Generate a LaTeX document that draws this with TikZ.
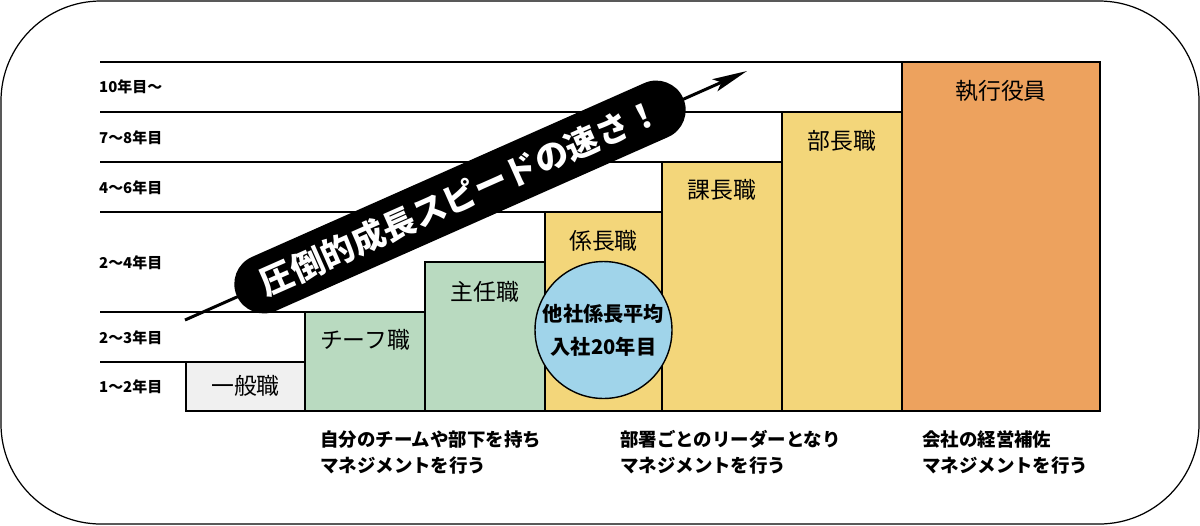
\documentclass[tikz,border=0pt]{standalone}
\usepackage{fontspec}
\setmainfont{Noto Sans CJK JP}
\usepackage{xcolor}
\usepackage{tikz}
\usetikzlibrary{positioning,arrows.meta,shapes.misc}
\definecolor{ippan}{RGB}{240, 240, 240}
\definecolor{chief}{RGB}{185, 218, 192}
\definecolor{kakari}{RGB}{243, 214, 122}
\definecolor{yakuin}{RGB}{237, 162, 94}
\definecolor{heikin}{RGB}{160, 212, 234}

\tikzset{
  grid/.style={line width=0.8pt},
  rank/.style={font=\fontsize{13}{15}\selectfont},
  year/.style={anchor=west, font=\bfseries\fontsize{8.5}{10}\selectfont},
  duty/.style={anchor=north west, align=left, font=\bfseries\fontsize{10.5}{14.8}\selectfont}
}

\begin{document}
\begin{tikzpicture}[x=0.02cm, y=-0.02cm]
\useasboundingbox (0,0) rectangle (1200,525);

% Frame
\draw[line width=0.7pt, rounded corners=2cm] (1,1) rectangle (1199,524);

% Year lines
\draw[grid] (100,62) -- (902,62);
\draw[grid] (100,112) -- (782,112);
\draw[grid] (100,162) -- (662,162);
\draw[grid] (100,212) -- (545,212);
\draw[grid] (100,312) -- (305,312);
\draw[grid] (100,362) -- (186,362);

% Year labels
\node[year] (y10) at (93,87) {10年目〜};
\node[year] (y7) at (93,138) {7〜8年目};
\node[year] (y4) at (93,188) {4〜6年目};
\node[year] (y2b) at (93,263) {2〜4年目};
\node[year] (y2a) at (93,338) {2〜3年目};
\node[year] (y1) at (93,387) {1〜2年目};

% Ranks
\filldraw[grid, fill=ippan] (186,362) rectangle (305,411);
\filldraw[grid, fill=chief] (305,312) rectangle (425,411);
\filldraw[grid, fill=chief] (425,262) rectangle (545,411);
\filldraw[grid, fill=kakari] (545,212) rectangle (662,411);
\filldraw[grid, fill=kakari] (662,162) rectangle (782,411);
\filldraw[grid, fill=kakari] (782,112) rectangle (902,411);
\filldraw[grid, fill=yakuin] (902,62) rectangle (1100,411);

\node[rank] (r1) at (245.5,386) {一般職};
\node[rank] (r2) at (365,340) {チーフ職};
\node[rank] (r3) at (485,292) {主任職};
\node[rank] (r4) at (603.5,241) {係長職};
\node[rank] (r5) at (722,190) {課長職};
\node[rank] (r6) at (842,141) {部長職};
\node[rank] (r7) at (1001,91) {執行役員};

% Average
\node[draw, grid, circle, fill=heikin, minimum size=2.74cm, inner sep=0pt, align=center,
  font=\bfseries\fontsize{11.5}{19}\selectfont] (avg) at (603.5,330) {他社係長平均\\入社20年目};

% Speed arrow
\coordinate (start) at (185,320);
\coordinate (tip) at (747,71);
\draw[line width=1.7pt, -{Stealth[length=0.7cm, width=0.26cm, inset=0.14cm]}] (start) -- (tip);
\node[rounded rectangle, fill=black, text=white, rotate=23.9, minimum width=10cm, minimum height=1.18cm,
  font=\bfseries\fontsize{19}{21}\selectfont] (speed) at (460,197) {圧倒的成長スピードの速さ！};

% Duties
\node[duty] (d1) at (314,424) {自分のチームや部下を持ち\\マネジメントを行う};
\node[duty] (d2) at (614,424) {部署ごとのリーダーとなり\\マネジメントを行う};
\node[duty] (d3) at (916,424) {会社の経営補佐\\マネジメントを行う};
\end{tikzpicture}
\end{document}
